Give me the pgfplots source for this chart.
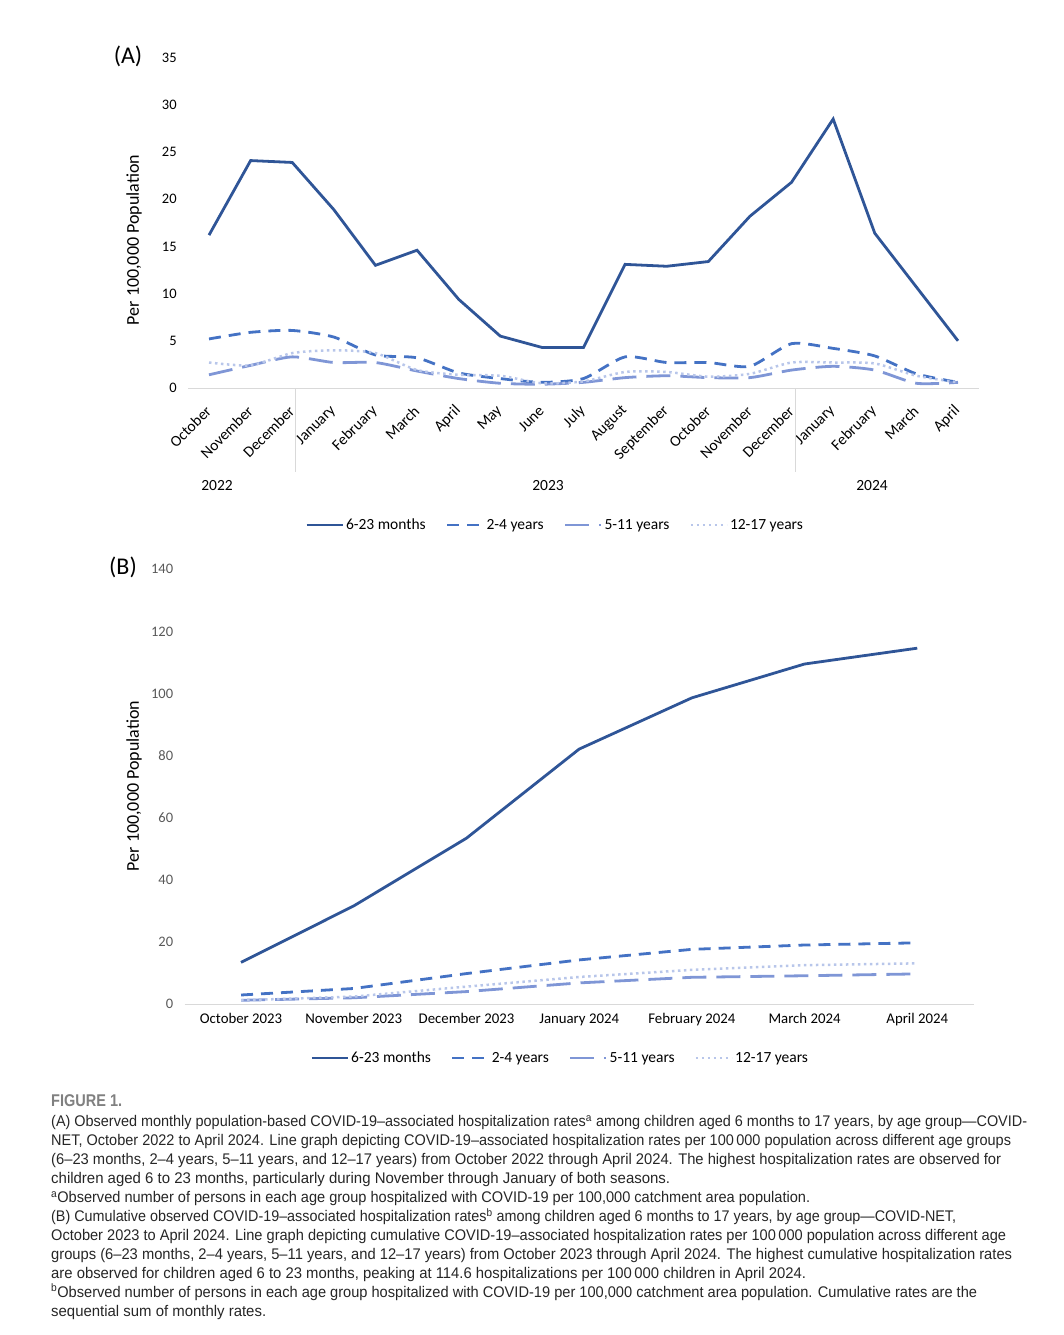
\documentclass[border=0pt]{standalone}
\usepackage{fontspec}
\setmainfont{Carlito}
\newfontfamily\capfont{Liberation Sans}
\usepackage{graphicx}
\usepackage{pgfplots}
\pgfplotsset{compat=1.18}
\definecolor{cA}{HTML}{2F5597}
\definecolor{cB}{HTML}{4472C4}
\definecolor{cC}{HTML}{7F96D6}
\definecolor{cD}{HTML}{B8C6EA}
\definecolor{axgray}{HTML}{D9D9D9}
\definecolor{tickgray}{HTML}{595959}
\definecolor{figgray}{HTML}{808080}
\newsavebox\capbox
\newcommand{\capline}[2]{\sbox\capbox{\capfont\fontsize{15.4}{19}\selectfont #2}\pgfmathsetmacro\capsc{#1/\wd\capbox}\scalebox{\capsc}[1]{\usebox\capbox}}
\newcommand{\titleline}[2]{\sbox\capbox{\capfont\bfseries\fontsize{17}{19}\selectfont #2}\pgfmathsetmacro\capsc{#1/\wd\capbox}\scalebox{\capsc}[1]{\usebox\capbox}}

\pgfplotstableread{
x c1 c2 c3 c4
0 16.2 5.2 1.4 2.7
1 24.1 5.9 2.4 2.4
2 23.9 6.1 3.3 3.7
3 18.9 5.4 2.7 4.0
4 13.0 3.5 2.7 3.7
5 14.6 3.2 1.8 1.9
6 9.4 1.6 1.0 1.4
7 5.5 1.0 0.5 1.3
8 4.3 0.6 0.4 0.5
9 4.3 1.0 0.6 0.7
10 13.1 3.3 1.1 1.7
11 12.9 2.7 1.3 1.7
12 13.4 2.7 1.1 1.2
13 18.2 2.3 1.1 1.5
14 21.8 4.7 1.9 2.7
15 28.5 4.2 2.3 2.7
16 16.4 3.4 1.9 2.6
17 10.7 1.5 0.5 1.3
18 5.0 0.6 0.6 0.6
}\monthly

\pgfplotstableread{
x c1 c2 c3 c4
0 13.4 2.9 1.2 1.2
1 31.6 5.0 2.0 2.4
2 53.4 9.8 4.0 5.6
3 82.1 14.2 6.8 8.7
4 98.6 17.6 8.6 11.0
5 109.5 19.0 9.1 12.5
6 114.6 19.7 9.7 13.1
}\cumul

\pgfplotsset{
  s1/.style={color=cA, line width=2.8pt, solid},
  s2/.style={color=cB, line width=2.8pt, dash pattern=on 12pt off 8pt},
  s3/.style={color=cC, line width=2.8pt, dash pattern=on 24pt off 10pt},
  s4/.style={color=cD, line width=2.5pt, dash pattern=on 2.5pt off 3.5pt},
  mylegend/.style={
    legend columns=4,
    legend image code/.code={\draw[##1] (0pt,0pt) -- (36pt,0pt);},
    legend style={draw=none, fill=none, font=\fontsize{15.5}{16}\selectfont,
      /tikz/every even column/.append style={column sep=18pt}},
  },
}

\begin{document}
\begin{tikzpicture}
\useasboundingbox (0pt,0pt) rectangle (1064pt,-1335pt);

% ---------- Panel A ----------
\node[font=\fontsize{24}{24}\selectfont] at (128pt,-56pt) {(A)};
\node[rotate=90, font=\fontsize{18}{18}\selectfont] at (134pt,-240pt) {Per 100,000 Population};
\begin{axis}[
  at={(188.2pt,-388pt)}, anchor=south west,
  scale only axis, width=790.6pt, height=330.3pt,
  xmin=-0.5, xmax=18.5, ymin=0, ymax=35,
  axis x line*=bottom, axis y line*=left,
  axis line style={-},
  x axis line style={draw=axgray, line width=1pt},
  y axis line style={draw=none},
  major tick length=0pt,
  xtick={0,...,18},
  xticklabels={October,November,December,January,February,March,April,May,June,July,August,September,October,November,December,January,February,March,April},
  xticklabel style={xshift=2pt, yshift=-18pt, rotate=45, anchor=east, font=\fontsize{15.5}{16}\selectfont},
  ytick={0,5,...,35},
  yticklabel style={font=\fontsize{14.5}{15}\selectfont, xshift=-8pt},
  /pgf/number format/assume math mode=true,
  clip=false,
  mylegend,
  legend style={at={(axis description cs:0.464,-0.415)}, anchor=center},
]
\addplot[s1] table[x=x,y=c1]{\monthly};
\addlegendentry{6-23 months}
\addplot[s2, smooth, tension=0.4] table[x=x,y=c2]{\monthly};
\addlegendentry{2-4 years}
\addplot[s3, smooth, tension=0.4] table[x=x,y=c3]{\monthly};
\addlegendentry{5-11 years}
\addplot[s4, smooth, tension=0.4] table[x=x,y=c4]{\monthly};
\addlegendentry{12-17 years}
\end{axis}
\draw[axgray, line width=1pt] (295pt,-388pt) -- (295pt,-472pt);
\draw[axgray, line width=1pt] (795.5pt,-388pt) -- (795.5pt,-472pt);
\node[font=\fontsize{15.5}{16}\selectfont] at (217pt,-486pt) {2022};
\node[font=\fontsize{15.5}{16}\selectfont] at (548pt,-486pt) {2023};
\node[font=\fontsize{15.5}{16}\selectfont] at (872pt,-486pt) {2024};

% ---------- Panel B ----------
\node[font=\fontsize{24}{24}\selectfont] at (123pt,-567pt) {(B)};
\node[rotate=90, font=\fontsize{18}{18}\selectfont] at (134pt,-786pt) {Per 100,000 Population};
\begin{axis}[
  at={(184.7pt,-1004pt)}, anchor=south west,
  scale only axis, width=788.9pt, height=434.7pt,
  xmin=-0.5, xmax=6.5, ymin=0, ymax=140,
  axis x line*=bottom, axis y line*=left,
  axis line style={-},
  x axis line style={draw=axgray, line width=1pt},
  y axis line style={draw=none},
  major tick length=0pt,
  xtick={0,...,6},
  xticklabels={October 2023,November 2023,December 2023,January 2024,February 2024,March 2024,April 2024},
  xticklabel style={font=\fontsize{14.8}{15}\selectfont, yshift=-6pt},
  ytick={0,20,...,140},
  yticklabel style={font=\fontsize{14.5}{15}\selectfont, xshift=-8pt, text=tickgray},
  /pgf/number format/assume math mode=true,
  clip=false,
  mylegend,
  legend style={at={(axis description cs:0.476,-0.124)}, anchor=center},
]
\addplot[s1] table[x=x,y=c1]{\cumul};
\addlegendentry{6-23 months}
\addplot[s2] table[x=x,y=c2]{\cumul};
\addlegendentry{2-4 years}
\addplot[s3] table[x=x,y=c3]{\cumul};
\addlegendentry{5-11 years}
\addplot[s4] table[x=x,y=c4]{\cumul};
\addlegendentry{12-17 years}
\end{axis}

% ---------- Caption ----------
\node[anchor=base west, inner sep=0pt, text=figgray] at (51pt,-1106.7pt)
  {\titleline{71}{FIGURE 1.}};
\foreach \i/\w/\t in {
 0/976/{(A) Observed monthly population-based COVID-19–associated hospitalization rates\textsuperscript{a} among children aged 6 months to 17 years, by age group—COVID-},
 1/960/{NET, October 2022 to April 2024. Line graph depicting COVID-19–associated hospitalization rates per 100\,000 population across different age groups},
 2/950/{(6–23 months, 2–4 years, 5–11 years, and 12–17 years) from October 2022 through April 2024. The highest hospitalization rates are observed for},
 3/619/{children aged 6 to 23 months, particularly during November through January of both seasons.},
 4/759/{\textsuperscript{a}Observed number of persons in each age group hospitalized with COVID-19 per 100,000 catchment area population.},
 5/905/{(B) Cumulative observed COVID-19–associated hospitalization rates\textsuperscript{b} among children aged 6 months to 17 years, by age group—COVID-NET,},
 6/955/{October 2023 to April 2024. Line graph depicting cumulative COVID-19–associated hospitalization rates per 100\,000 population across different age},
 7/961/{groups (6–23 months, 2–4 years, 5–11 years, and 12–17 years) from October 2023 through April 2024. The highest cumulative hospitalization rates},
 8/755/{are observed for children aged 6 to 23 months, peaking at 114.6 hospitalizations per 100\,000 children in April 2024.},
 9/926/{\textsuperscript{b}Observed number of persons in each age group hospitalized with COVID-19 per 100,000 catchment area population. Cumulative rates are the},
 10/215/{sequential sum of monthly rates.}}
{
  \node[anchor=base west, inner sep=0pt, text=black!85] at (51pt,{-1126.5pt-18.95pt*\i}) {\capline{\w}{\t}};
}
\end{tikzpicture}
\end{document}
